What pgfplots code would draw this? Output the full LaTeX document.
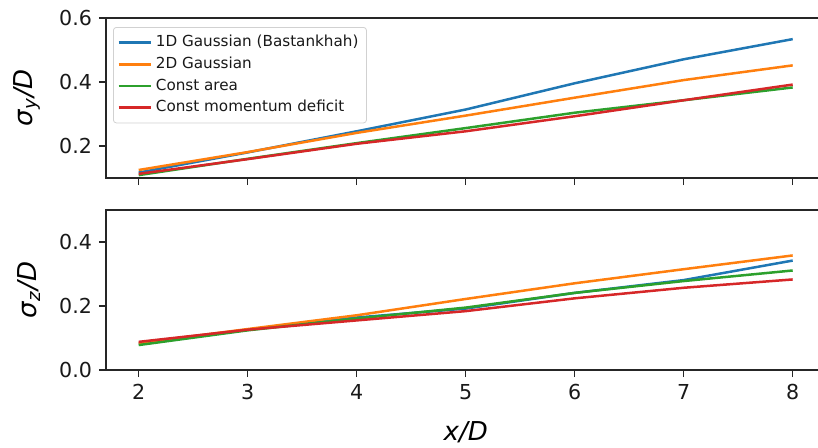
\documentclass[border=0pt]{standalone}
\usepackage{fontspec}
\setmainfont{DejaVu Sans}
\usepackage{pgfplots}
\pgfplotsset{compat=1.18}
\definecolor{tabblue}{HTML}{1F77B4}
\definecolor{taborange}{HTML}{FF7F0E}
\definecolor{tabgreen}{HTML}{2CA02C}
\definecolor{tabred}{HTML}{D62728}
\pgfplotsset{
  myaxis/.style={
    scale only axis, width=359.7pt, height=80pt,
    xmin=1.7, xmax=8.3, anchor=south west,
    xtick={2,3,4,5,6,7,8},
    axis line style={line width=0.7pt, black!85},
    tick style={line width=0.7pt, black!85},
    tick align=outside, major tick length=3.5pt,
    xtick pos=bottom, ytick pos=left,
    /pgf/number format/assume math mode=true,
    ticklabel style={font=\fontsize{10.3}{12}\selectfont, text=black!90},
    yticklabel style={/pgf/number format/fixed, /pgf/number format/precision=1, /pgf/number format/fixed zerofill},
    every axis plot/.append style={line width=1.25pt, line join=round},
  }
}
\begin{document}
\begin{tikzpicture}
\useasboundingbox (0,0) rectangle (409pt,223.5pt);
\begin{axis}[myaxis, at={(53pt,134.5pt)},
  ymin=0.1, ymax=0.6, ytick={0.2,0.4,0.6},
  xticklabels={},
  ylabel={\fontsize{13}{14}\selectfont\textit{σ}\textsubscript{\textit{y}}\textit{/D}},
  ylabel style={at={(axis description cs:-0.1098,0.5)}, anchor=center},
  legend cell align=left,
  legend style={at={(axis description cs:0,1)}, anchor=north west, xshift=3.5pt, yshift=-4.5pt,
    draw=black!18, rounded corners=1.5pt, fill=white, fill opacity=0.8, text opacity=1,
    font=\fontsize{7.6}{8.6}\selectfont, text=black!90, row sep=-0.4pt, inner sep=2pt},
  legend image code/.code={\draw[#1, line width=1.25pt] (0pt,0pt) -- (16pt,0pt);},
]
\addplot[tabblue] coordinates {(2,0.117) (3,0.180) (4,0.246) (5,0.314) (6,0.396) (7,0.471) (8,0.534)};
\addplot[taborange] coordinates {(2,0.125) (3,0.181) (4,0.241) (5,0.295) (6,0.351) (7,0.406) (8,0.452)};
\addplot[tabgreen] coordinates {(2,0.109) (3,0.160) (4,0.209) (5,0.256) (6,0.304) (7,0.343) (8,0.383)};
\addplot[tabred] coordinates {(2,0.113) (3,0.159) (4,0.207) (5,0.246) (6,0.293) (7,0.343) (8,0.392)};
\legend{1D Gaussian (Bastankhah), 2D Gaussian, Const area, Const momentum deficit}
\end{axis}
\begin{axis}[myaxis, at={(53pt,38.5pt)},
  ymin=0, ymax=0.5, ytick={0,0.2,0.4},
  ylabel={\fontsize{13}{14}\selectfont\textit{σ}\textsubscript{\textit{z}}\textit{/D}},
  ylabel style={at={(axis description cs:-0.107,0.5)}, anchor=center},
  xlabel={\fontsize{13}{14}\selectfont\textit{x/D}},
  xlabel style={at={(axis description cs:0.5,0)}, yshift=-31pt, anchor=center},
]
\addplot[tabblue] coordinates {(2,0.082) (3,0.126) (4,0.164) (5,0.192) (6,0.241) (7,0.281) (8,0.342)};
\addplot[taborange] coordinates {(2,0.084) (3,0.128) (4,0.171) (5,0.222) (6,0.271) (7,0.315) (8,0.358)};
\addplot[tabgreen] coordinates {(2,0.078) (3,0.124) (4,0.161) (5,0.195) (6,0.241) (7,0.278) (8,0.311)};
\addplot[tabred] coordinates {(2,0.088) (3,0.126) (4,0.155) (5,0.184) (6,0.224) (7,0.257) (8,0.283)};
\end{axis}
\end{tikzpicture}
\end{document}
